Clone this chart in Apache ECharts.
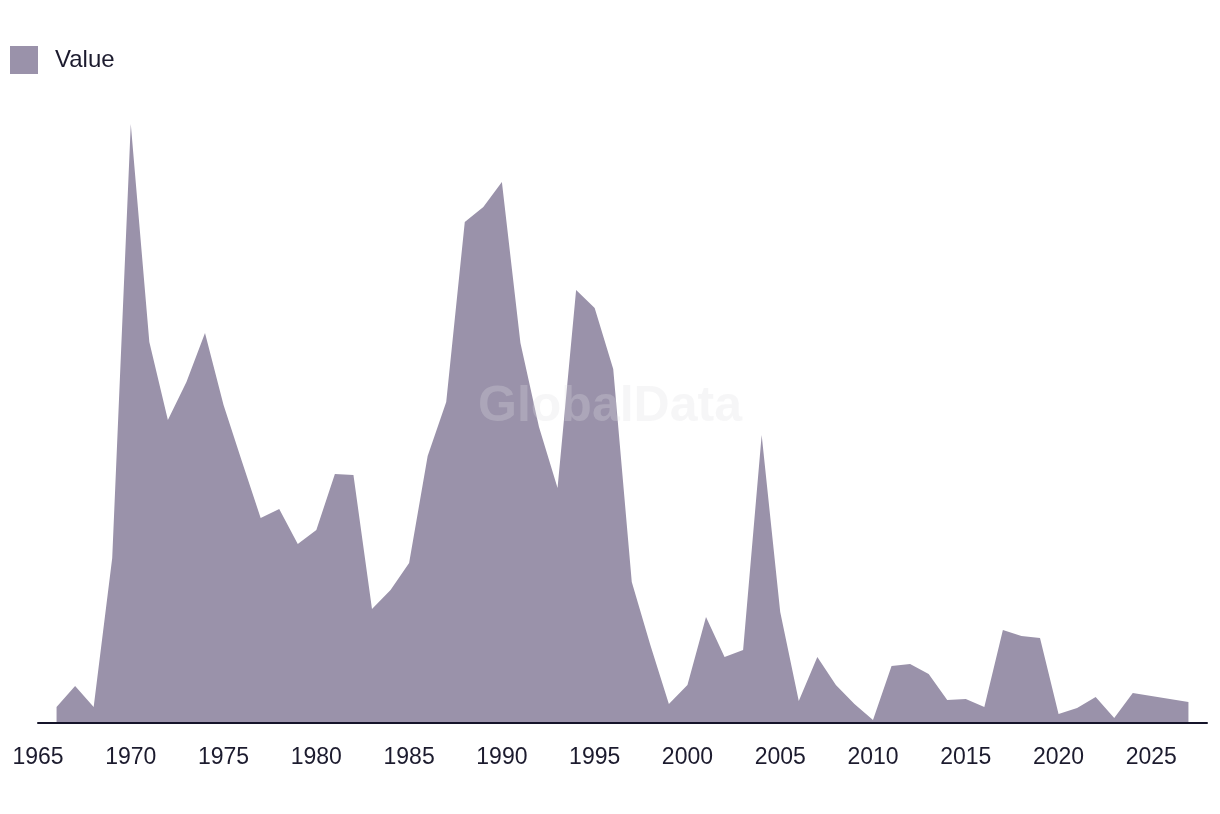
<!DOCTYPE html>
<html>
<head>
<meta charset="utf-8">
<script src="https://cdn.jsdelivr.net/npm/echarts@6/dist/echarts.min.js"></script>
<style>
html,body{margin:0;padding:0;background:#fff;}
#chart{width:1220px;height:814px;}
</style>
</head>
<body>
<div id="chart"></div>
<script>
const seriesName = 'Value';
const years = [1966,1967,1968,1969,1970,1971,1972,1973,1974,1975,1976,1977,1978,1979,1980,1981,1982,1983,1984,1985,1986,1987,1988,1989,1990,1991,1992,1993,1994,1995,1996,1997,1998,1999,2000,2001,2002,2003,2004,2005,2006,2007,2008,2009,2010,2011,2012,2013,2014,2015,2016,2017,2018,2019,2020,2021,2022,2023,2024,2025,2026,2027];
const values = [16,37,16,165,599,381,303,341,390,318,261,205,214,179,193,249,248,114,133,160,267,321,501,516,541,380,296,235,433,415,354,141,78,19,38,106,66,73,288,111,22,66,38,19,3,57,59,49,23,24,16,93,87,85,9,15,26,5,30,27,24,21];

const data = years.map((y, i) => [y, values[i]]);
const chart = echarts.init(document.getElementById('chart'));
chart.setOption({
  animation: false,
  backgroundColor: '#ffffff',
  legend: {
    left: 10, top: 46, padding: 0,
    icon: 'rect',
    itemWidth: 28, itemHeight: 28,
    textStyle: { fontFamily: 'Liberation Sans', fontSize: 24, color: '#1c1b2e', padding: [0,0,0,12] },
    data: [seriesName]
  },
  graphic: [{
    type: 'text',
    left: 'center', top: 382,
    z: 100,
    style: { text: 'GlobalData', fontFamily: 'Liberation Sans', fontWeight: 'bold', fontSize: 50, fill: 'rgba(220,220,226,0.27)' }
  }],
  grid: { left: 38, right: 13, top: 123, bottom: 91, containLabel: false, outerBoundsMode: 'none' },
  xAxis: {
    type: 'value', min: 1965, max: 2028, interval: 5, z: 10,
    axisLine: { show: true, lineStyle: { color: '#15142a', width: 2 } },
    axisTick: { show: false },
    splitLine: { show: false },
    axisLabel: { fontFamily: 'Liberation Sans', fontSize: 23, color: '#1c1b2e', margin: 23, showMaxLabel: false,
      formatter: v => (v % 5 === 0 ? String(v) : '') }
  },
  yAxis: {
    type: 'value', min: 0, max: 600, show: false,
    splitLine: { show: false }
  },
  series: [{
    name: seriesName,
    type: 'line',
    data: data,
    symbol: 'none',
    lineStyle: { width: 0, color: '#9a92aa' },
    itemStyle: { color: '#9a92aa' },
    areaStyle: { color: '#9a92aa', opacity: 1 },
    z: 2
  }]
});
</script>
</body>
</html>
